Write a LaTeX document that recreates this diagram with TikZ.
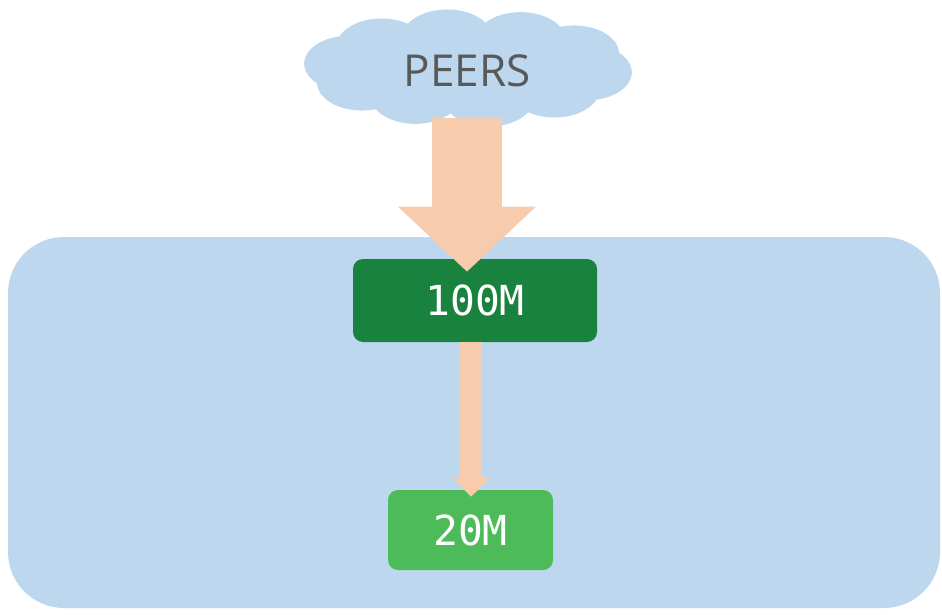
\documentclass[tikz,border=0pt]{standalone}
\usepackage{xcolor}
\usepackage{tikz}
\usetikzlibrary{arrows.meta}
\usepackage{fontspec}
\newfontfamily\peersfont{Open Sans}
\setmonofont{DejaVu Sans Mono}
\definecolor{netblue}{HTML}{BDD7EE}
\definecolor{flowpeach}{HTML}{F7CBAC}
\definecolor{bwdark}{HTML}{19823F}
\definecolor{bwlight}{HTML}{4DBB5A}
\definecolor{peergrey}{HTML}{595959}

\begin{document}
\begin{tikzpicture}[x=0.75pt,y=-0.75pt,
  ratebox/.style={rectangle,rounded corners=7.5pt,text=white,
    font=\ttfamily\fontsize{31}{36}\selectfont},
  fatarrow/.style={draw=flowpeach,line width=52.5pt,
    -{Triangle[width=100.5pt,length=48.75pt,fill=flowpeach]}},
  thinarrow/.style={draw=flowpeach,line width=16.5pt,
    -{Triangle[width=27.75pt,length=14.25pt,fill=flowpeach]}}]
  \useasboundingbox (0,0) rectangle (942,614);
  % network area
  \fill[netblue,rounded corners=42pt] (8,237) rectangle (940,608);
  % cloud
  \fill[netblue] (468,68) ellipse [x radius=97.5pt,y radius=33.75pt];
  \foreach \a in {0,36,...,324}
    \fill[netblue] ({468+120*cos(\a+8)},{68+31*sin(\a+8)}) ellipse [x radius=33.75pt,y radius=21pt];
  \node[minimum width=225pt,minimum height=70.5pt,text=peergrey,
    font=\peersfont\fontsize{33}{40}\selectfont] (peers) at (467,71) {PEERS};
  \node[ratebox,fill=bwdark,minimum width=183pt,minimum height=62.25pt]
    (big) at (475,300.5) {100M};
  \node[ratebox,fill=bwlight,minimum width=123.75pt,minimum height=60pt]
    (small) at (470.5,530) {20M};
  \draw[fatarrow] (peers.south) -- ([yshift=-9.75pt]peers.south |- big.north);
  \draw[thinarrow] ([xshift=0.4pt]small.north |- big.south) -- ([xshift=0.4pt,yshift=-5.25pt]small.north);
\end{tikzpicture}
\end{document}
